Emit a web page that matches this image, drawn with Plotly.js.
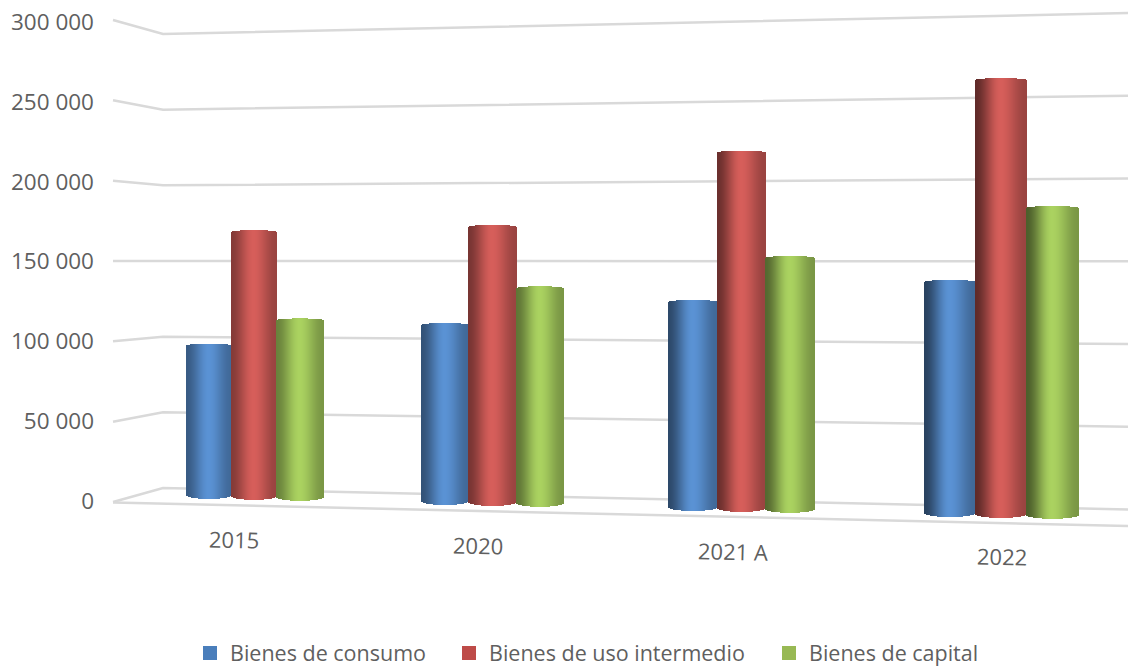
<!DOCTYPE html>
<html>
<head>
<meta charset="utf-8">
<script src="https://cdn.plot.ly/plotly-3.0.1.min.js"></script>
<style>html,body{margin:0;padding:0;background:#fff;overflow:hidden}#chart{width:1128px;height:668px}</style>
</head>
<body>
<div id="chart"></div>
<script>
const categories = ['2015', '2020', '2021 A', '2022'];
const bienesConsumo = [97900, 111900, 126600, 138900];
const bienesIntermedio = [169400, 172100, 216000, 256800];
const bienesCapital = [114100, 134600, 153000, 182000];
const tickVals = [0, 50000, 100000, 150000, 200000, 250000, 300000];
const tickLabels = ['0', '50 000', '100 000', '150 000', '200 000', '250 000', '300 000'];

// ---- layout / perspective constants (page pixels) ----
const W = 1128, H = 668, AXIS_LEFT = 95, BOTTOM = 0, PLOT_H = H - BOTTOM;
const ZERO_PX = 501, UNITS_PER_PX = 300000 / 479;
const toAxis = px => (ZERO_PX - px) * UNITS_PER_PX;
const EYE_V = 150000, EYE_PX = 261;
const project = (v, floorPx) => EYE_PX + (EYE_V - v) * (floorPx - EYE_PX) / EYE_V;

const catFloors = [499, 505, 511, 517];
const barEdges = [[186, 231, 276, 323], [421, 468, 516, 563], [668, 717, 765, 814], [924, 975, 1026, 1078]];
const leftShade = [0.62, 0.56, 0.50, 0.45];
const rightShade = 0.72;
const seriesDefs = [
  {name: 'Bienes de consumo', values: bienesConsumo, peak: [90, 146, 212], legend: '#4a7ebb', lx: 190},
  {name: 'Bienes de uso intermedio', values: bienesIntermedio, peak: [214, 94, 90], legend: '#be4b48', lx: 449},
  {name: 'Bienes de capital', values: bienesCapital, peak: [170, 210, 96], legend: '#98b954', lx: 769}
];

function shade(u, cat) {
  const s = x => x * x * (3 - 2 * x);
  const peakAt = 0.5;
  return u < peakAt
    ? leftShade[cat] + (1 - leftShade[cat]) * s(u / peakAt)
    : 1 - (1 - rightShade) * s((u - peakAt) / (1 - peakAt));
}

const traces = [];
seriesDefs.forEach((sd, si) => {
  const xs = [], ys = [], bases = [], cols = [];
  sd.values.forEach((v, ci) => {
    const x0 = barEdges[ci][si], x1 = barEdges[ci][si + 1];
    const floor = catFloors[ci] + si * 0.9;
    const top = project(v, floor);
    const n = x1 - x0;
    for (let k = 0; k < n; k++) {
      const u = (k + 0.5) / n;
      const arc = 1 - Math.sqrt(Math.max(0, 1 - Math.pow(2 * u - 1, 2)));
      const botPx = floor - 4 * arc;
      const topPx = top + 2 * arc;
      const f = shade(u, ci);
      xs.push(x0 + k + 1);
      bases.push(toAxis(botPx));
      ys.push(toAxis(topPx) - toAxis(botPx));
      cols.push('rgb(' + sd.peak.map(c => Math.round(c * f)).join(',') + ')');
    }
  });
  traces.push({
    type: 'bar', x: xs, y: ys, base: bases, width: 1.4, showlegend: false, hoverinfo: 'skip',
    marker: {color: cols, line: {width: 0}}
  });
});
seriesDefs.forEach((sd, si) => {
  traces.push({
    type: 'scatter', mode: 'markers', x: [null], y: [null], name: sd.name,
    legend: si === 0 ? 'legend' : 'legend' + (si + 1),
    marker: {symbol: 'square', size: 14, color: sd.legend}, hoverinfo: 'skip'
  });
});

// perspective gridlines on the walls: all meet the eye level at 150 000
const GRID = '#d9d9d9';
const leftY = v => 502 - v * 482 / 300000;
const backLY = v => 488 - v * 454 / 300000;
const backRY = v => 509.5 - v * 496.5 / 300000;
const shapes = tickVals.map(v => ({
  type: 'path', xref: 'x', yref: 'y', layer: 'below',
  path: `M113,${toAxis(leftY(v))} L163,${toAxis(backLY(v))} L${W},${toAxis(backRY(v))}`,
  line: {color: GRID, width: 2.5}
}));
shapes.push({
  type: 'line', xref: 'x', yref: 'y', layer: 'below',
  x0: 113, y0: toAxis(502.5), x1: W, y1: toAxis(526), line: {color: GRID, width: 2.5}
});

const TEXT = '#5f5f5f';
const labelPos = [[234, 539], [478, 545], [733, 551], [1002, 556]];
const annotations = categories.map((c, i) => ({
  x: labelPos[i][0], y: toAxis(labelPos[i][1]), xref: 'x', yref: 'y', text: c, showarrow: false,
  textangle: 1.4, xanchor: 'center', yanchor: 'middle',
  font: {family: 'Open Sans', size: 22, color: TEXT}
}));

const legendCfg = lx => ({
  orientation: 'h', xref: 'paper', yref: 'paper', x: (lx - AXIS_LEFT) / (W - AXIS_LEFT),
  y: (PLOT_H - 653) / PLOT_H,
  xanchor: 'left', yanchor: 'middle', bgcolor: 'rgba(0,0,0,0)',
  font: {family: 'Open Sans', size: 21.5, color: TEXT}
});

const layout = {
  width: W, height: H, margin: {l: AXIS_LEFT, r: 0, t: 0, b: BOTTOM, pad: 0, autoexpand: false},
  paper_bgcolor: '#fff', plot_bgcolor: '#fff', barmode: 'overlay', bargap: 0,
  hovermode: false,
  xaxis: {range: [AXIS_LEFT, W], visible: false, fixedrange: true},
  yaxis: {
    range: [toAxis(PLOT_H), toAxis(0)], tickmode: 'array', tickvals: tickVals, ticktext: tickLabels,
    showgrid: false, zeroline: false, showline: false, ticks: '', fixedrange: true,
    tickfont: {family: 'Open Sans', size: 22.5, color: TEXT}
  },
  shapes, annotations,
  legend: legendCfg(seriesDefs[0].lx),
  legend2: legendCfg(seriesDefs[1].lx),
  legend3: legendCfg(seriesDefs[2].lx)
};
Plotly.newPlot('chart', traces, layout, {displayModeBar: false, responsive: false});
</script>
</body>
</html>
